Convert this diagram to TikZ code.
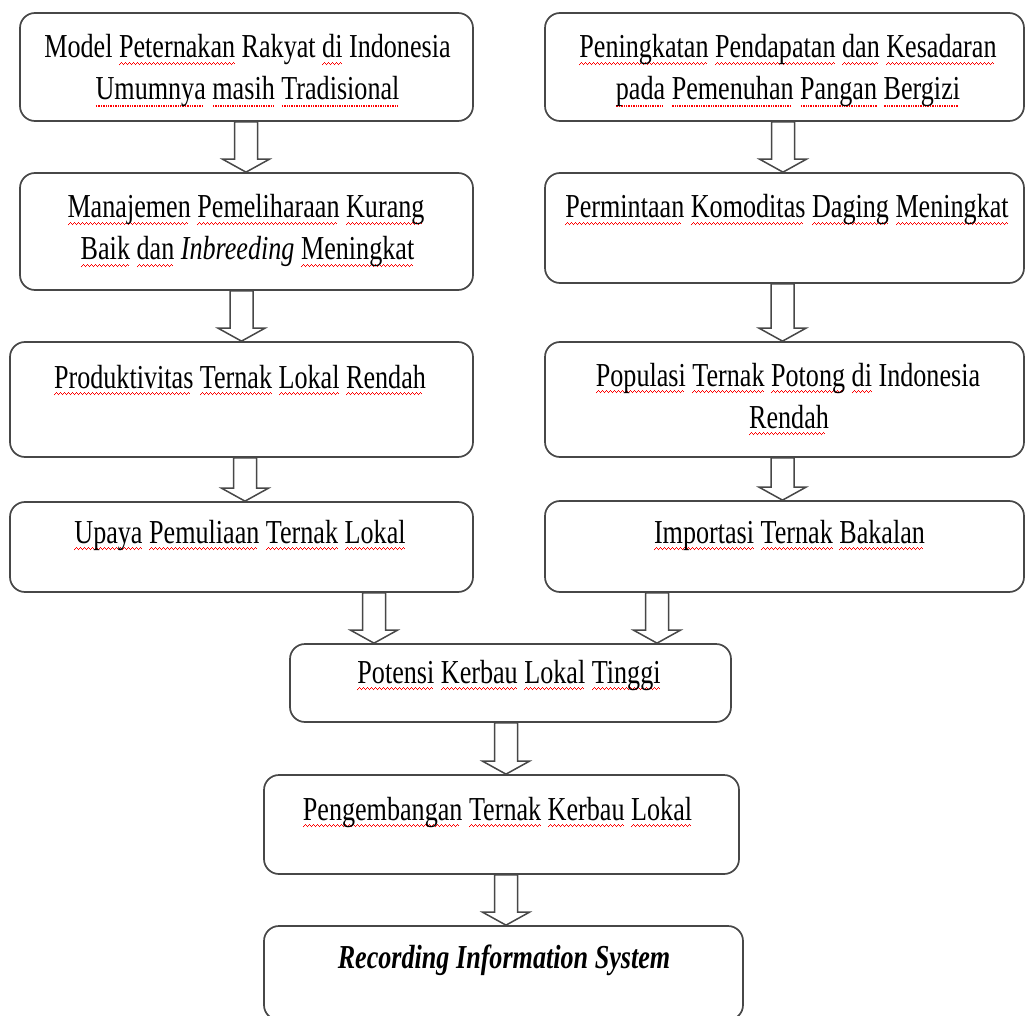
\documentclass[tikz,border=0pt]{standalone}
\usepackage{fontspec}
\setmainfont{Liberation Serif}[FakeStretch=0.78]
\usetikzlibrary{calc}
\newcommand\wavepiece{\hbox{\rule[-7.3pt]{1pt}{1.6pt}\rule[-6.3pt]{1pt}{1.6pt}\rule[-5.3pt]{1pt}{1.6pt}\rule[-6.3pt]{1pt}{1.6pt}}}
\newcommand\sqw[1]{\setbox0\hbox{#1}\rlap{\hbox to \wd0{\color{red}\leaders\wavepiece\hfill}}\box0\relax}
\newcommand\sqd[1]{\setbox0\hbox{#1}\rlap{\hbox to \wd0{\color{red}\leaders\hbox to 2.4pt{\hss\rule[-6.8pt]{1.4pt}{1.4pt}\hss}\hfill}}\box0\relax}
\tikzset{
  box/.style={draw=black!72, line width=1.7pt, rounded corners=15pt, fill=white, inner sep=0pt},
  txt/.style={inner sep=0pt, anchor=base, font=\fontsize{33.5}{42}\selectfont},
  barr/.style={draw=black!72, line width=1.5pt, fill=white, line join=miter},
}
\newcommand\mkbox[5]{\node[box, minimum width={(#4-#2)*1pt}, minimum height={(#5-#3)*1pt}] (#1) at ({(#2+#4)/2},{(#3+#5)/2}) {};}
\newcommand\mkarrow[3]{%
  \draw[barr] let \p1=(#1.south), \p2=(#2.north) in
    ({#3*1pt-11.5pt},\y1) -- ({#3*1pt+11.5pt},\y1) -- ({#3*1pt+11.5pt},\y2+13pt)
    -- ({#3*1pt+23.5pt},\y2+13pt) -- ({#3*1pt},\y2) -- ({#3*1pt-23.5pt},\y2+13pt)
    -- ({#3*1pt-11.5pt},\y2+13pt) -- cycle;}
\begin{document}
\begin{tikzpicture}[x=1pt,y=-1pt]
\fill[white] (0,0) rectangle (1025,1016);
\clip (0,0) rectangle (1025,1016);
% boxes
\mkbox{b1}{20}{13}{473}{121}
\mkbox{b2}{20}{173}{473}{290}
\mkbox{b3}{10}{342}{473}{457}
\mkbox{b4}{10}{502}{473}{592}
\mkbox{r1}{545}{13}{1024}{121}
\mkbox{r2}{545}{173}{1024}{283}
\mkbox{r3}{545}{342}{1024}{457}
\mkbox{r4}{545}{501}{1024}{592}
\mkbox{b5}{290}{644}{731}{722}
\mkbox{b6}{264}{775}{739}{874}
\mkbox{b7}{264}{926}{743}{1020}
% arrows
\mkarrow{b1}{b2}{246}
\mkarrow{b2}{b3}{241.5}
\mkarrow{b3}{b4}{245}
\mkarrow{r1}{r2}{783}
\mkarrow{r2}{r3}{782.5}
\mkarrow{r3}{r4}{782.5}
\mkarrow{b4}{b5}{374}
\mkarrow{r4}{b5}{657}
\mkarrow{b5}{b6}{506}
\mkarrow{b6}{b7}{506}
% texts
\node[txt] (t1a) at (247.5,58) {Model \sqw{Peternakan} Rakyat \sqw{di} Indonesia};
\node[txt] (t1b) at (247.5,100) {\sqd{Umumnya} \sqd{masih} \sqd{Tradisional}};
\node[txt] (t2a) at (246,218) {\sqw{Manajemen} \sqw{Pemeliharaan} \sqw{Kurang}};
\node[txt] (t2b) at (247.5,260) {\sqw{Baik} \sqw{dan} \textit{Inbreeding} \sqw{Meningkat}};
\node[txt] (t3) at (240,388) {\sqw{Produktivitas} \sqw{Ternak} \sqw{Lokal} \sqw{Rendah}};
\node[txt] (t4) at (240,543) {\sqw{Upaya} \sqw{Pemuliaan} \sqw{Ternak} \sqw{Lokal}};
\node[txt] (s1a) at (788,58) {\sqw{Peningkatan} \sqw{Pendapatan} \sqw{dan} \sqw{Kesadaran}};
\node[txt] (s1b) at (788,100) {\sqd{pada} \sqd{Pemenuhan} \sqd{Pangan} \sqd{Bergizi}};
\node[txt] (s2) at (787,218) {\sqw{Permintaan} \sqw{Komoditas} \sqw{Daging} \sqw{Meningkat}};
\node[txt] (s3a) at (788,386) {\sqw{Populasi} \sqw{Ternak} \sqw{Potong} \sqw{di} Indonesia};
\node[txt] (s3b) at (789,428) {\sqw{Rendah}};
\node[txt] (s4) at (789.5,543) {\sqw{Importasi} \sqw{Ternak} \sqw{Bakalan}};
\node[txt] (t5) at (509,683) {\sqw{Potensi} \sqw{Kerbau} \sqw{Lokal} \sqw{Tinggi}};
\node[txt] (t6) at (497.5,820) {\sqw{Pengembangan} \sqw{Ternak} \sqw{Kerbau} \sqw{Lokal}};
\node[txt] (t7) at (504,968) {\textbf{\textit{Recording Information System}}};
\end{tikzpicture}
\end{document}
